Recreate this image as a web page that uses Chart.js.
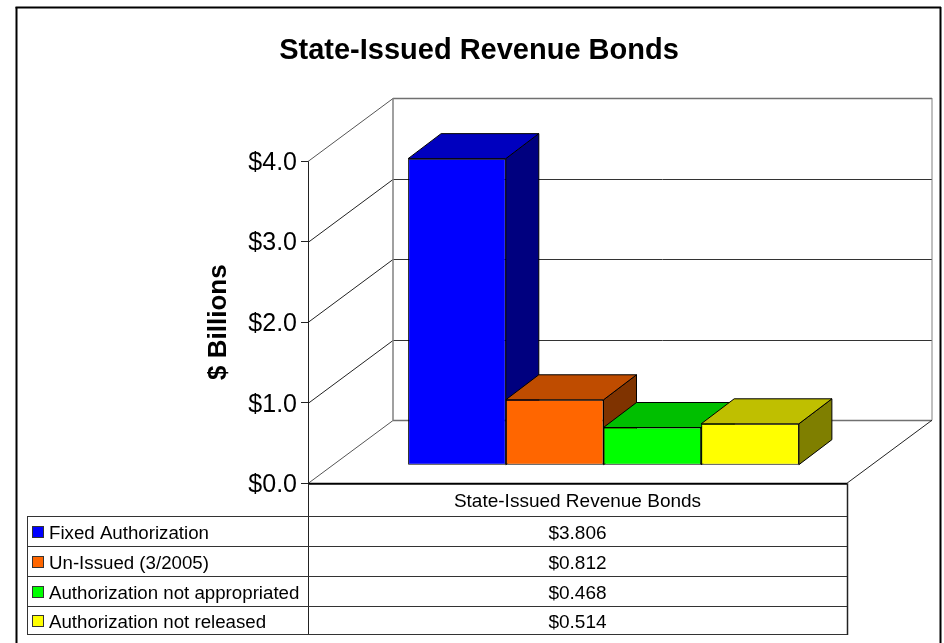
<!DOCTYPE html>
<html lang="en">
<head>
<meta charset="UTF-8">
<title>State-Issued Revenue Bonds</title>
<style>
    body { margin: 0; background: #fff; overflow: hidden; }
    canvas { display: block; }
</style>
</head>
<body>
<canvas id="chart" width="944" height="643"></canvas>
<script src="https://cdn.jsdelivr.net/npm/chart.js"></script>
<script>
    const categories = ['State-Issued Revenue Bonds'];
    const seriesNames = ['Fixed Authorization', 'Un-Issued (3/2005)', 'Authorization not appropriated', 'Authorization not released'];
    const seriesValues = [3.806, 0.812, 0.468, 0.514];
    const frontColors = ['#0000ff', '#ff6600', '#00ff00', '#ffff00'];
    const topColors = ['#0000bf', '#bf4c00', '#00bf00', '#bfbf00'];
    const sideColors = ['#00007f', '#7f3300', '#007f00', '#7f7f00'];
    const tickValues = [0, 1, 2, 3, 4];

    const fontName = '"Liberation Sans", Arial, sans-serif';
    // depth of the fake 3D box
    const wallDx = 85, wallDy = -63;
    const barShiftX = 26, barShiftY = -18;
    const barDepthX = 33, barDepthY = -25;

    function line(ctx, x1, y1, x2, y2, color, width) {
        ctx.strokeStyle = color;
        ctx.lineWidth = width;
        ctx.beginPath();
        ctx.moveTo(x1, y1);
        ctx.lineTo(x2, y2);
        ctx.stroke();
    }

    function face(ctx, pts, color) {
        ctx.fillStyle = color;
        ctx.strokeStyle = '#000';
        ctx.lineWidth = 1;
        ctx.beginPath();
        pts.forEach((p, i) => i ? ctx.lineTo(p[0], p[1]) : ctx.moveTo(p[0], p[1]));
        ctx.closePath();
        ctx.fill();
        ctx.stroke();
    }

    const box3d = {
        id: 'box3d',
        beforeDatasetsDraw(chart) {
            const ctx = chart.ctx, y = chart.scales.y, a = chart.chartArea;
            ctx.save();
            // walls and floor, behind the bars
            tickValues.forEach(v => {
                const py = Math.round(y.getPixelForValue(v)) + 0.5;
                const edge = v === 0 || v === 4;
                line(ctx, a.left, py, a.left + wallDx, py + wallDy, edge ? '#555' : '#222', 1);
                line(ctx, a.left + wallDx, py + wallDy, a.right + wallDx, py + wallDy, edge ? '#707070' : '#333', edge ? 1.5 : 1);
            });
            const top = y.getPixelForValue(4) + wallDy, bottom = y.getPixelForValue(0) + wallDy;
            line(ctx, a.left + wallDx, top, a.left + wallDx, bottom, '#808080', 1.5);
            line(ctx, a.right + wallDx, top, a.right + wallDx, bottom, '#808080', 1);
            line(ctx, a.right, a.bottom, a.right + wallDx, bottom, '#222', 1);

            // bars left to right, each one covers the side of the bar before it
            seriesNames.forEach((name, i) => {
                const bar = chart.getDatasetMeta(i).data[0];
                const l = bar.x - bar.width / 2 + barShiftX, r = bar.x + bar.width / 2 + barShiftX;
                const t = bar.y + barShiftY, b = bar.base + barShiftY;
                ctx.save();
                ctx.translate(barShiftX, barShiftY);
                bar.draw(ctx);
                ctx.restore();
                face(ctx, [[r, t], [r + barDepthX, t + barDepthY], [r + barDepthX, b + barDepthY], [r, b]], sideColors[i]);
                face(ctx, [[l, t], [l + barDepthX, t + barDepthY], [r + barDepthX, t + barDepthY], [r, t]], topColors[i]);
            });
            ctx.restore();
            return false;
        },
        // data table and outer frame
        afterDraw(chart) {
            const ctx = chart.ctx, a = chart.chartArea;
            const tableLeft = 27, rowTops = [516, 546, 576, 606, 634];
            ctx.save();
            line(ctx, 16.5, 7, 16.5, 643, '#000', 2);
            line(ctx, 15.5, 7.5, 941, 7.5, '#000', 2);
            line(ctx, 940.5, 7, 940.5, 643, '#000', 2);

            line(ctx, a.left, a.bottom + 0.5, a.right, a.bottom + 0.5, '#000', 2);
            line(ctx, a.left + 0.5, a.bottom, a.left + 0.5, 634, '#222', 1);
            line(ctx, a.right + 0.5, a.bottom, a.right + 0.5, 635, '#222', 1.5);
            line(ctx, tableLeft + 0.5, rowTops[0], tableLeft + 0.5, 635, '#333', 1);
            rowTops.forEach(ry => line(ctx, tableLeft, ry + 0.5, a.right, ry + 0.5, '#333', 1));

            ctx.textBaseline = 'middle';
            seriesNames.forEach((name, i) => {
                const mid = (rowTops[i] + rowTops[i + 1]) / 2 + 3;
                const swatchTop = Math.round((rowTops[i] + rowTops[i + 1]) / 2) - 4.5;
                ctx.fillStyle = frontColors[i];
                ctx.fillRect(32.5, swatchTop, 11, 11);
                ctx.strokeStyle = '#333';
                ctx.lineWidth = 1;
                ctx.strokeRect(32.5, swatchTop, 11, 11);
                ctx.fillStyle = '#000';
                ctx.textAlign = 'left';
                ctx.font = '18.7px ' + fontName;
                ctx.fillText(name, 49, mid);
                ctx.textAlign = 'center';
                ctx.font = '19px ' + fontName;
                ctx.fillText('$' + seriesValues[i].toFixed(3), (a.left + a.right) / 2, mid);
            });
            ctx.restore();
        }
    };

    new Chart(document.getElementById('chart'), {
        type: 'bar',
        data: {
            labels: categories,
            datasets: seriesNames.map((name, i) => ({
                label: name,
                data: [seriesValues[i]],
                backgroundColor: frontColors[i],
                borderColor: '#000',
                borderWidth: 1,
                borderSkipped: false
            }))
        },
        options: {
            responsive: false,
            animation: false,
            categoryPercentage: 0.725,
            barPercentage: 1,
            layout: {
                autoPadding: false,
                padding: { left: 111, right: 97, top: 0, bottom: 123 }
            },
            plugins: {
                legend: { display: false },
                tooltip: { enabled: false },
                title: {
                    display: true,
                    text: 'State-Issued Revenue Bonds',
                    color: '#000',
                    font: { family: fontName, size: 29, weight: 'bold', lineHeight: 1 },
                    padding: { top: 36, bottom: 96 }
                }
            },
            scales: {
                x: {
                    grid: { display: false, drawTicks: false },
                    border: { display: false },
                    ticks: { color: '#000', font: { family: fontName, size: 19 }, padding: 7, maxRotation: 0 }
                },
                y: {
                    min: 0,
                    max: 4,
                    afterFit(scale) { scale.width = 197; },
                    afterBuildTicks(scale) { scale.ticks = tickValues.map(v => ({ value: v })); },
                    grid: { drawOnChartArea: false, color: '#222', tickLength: 7 },
                    border: { display: true, color: '#222' },
                    ticks: {
                        color: '#000',
                        font: { family: fontName, size: 25 },
                        padding: 4,
                        labelOffset: 2,
                        callback: v => '$' + v.toFixed(1)
                    },
                    title: {
                        display: true,
                        text: '$ Billions',
                        color: '#000',
                        font: { family: fontName, size: 26, weight: 'bold' },
                        padding: { top: 92, bottom: 0 }
                    }
                }
            }
        },
        plugins: [box3d]
    });
</script>
</body>
</html>
